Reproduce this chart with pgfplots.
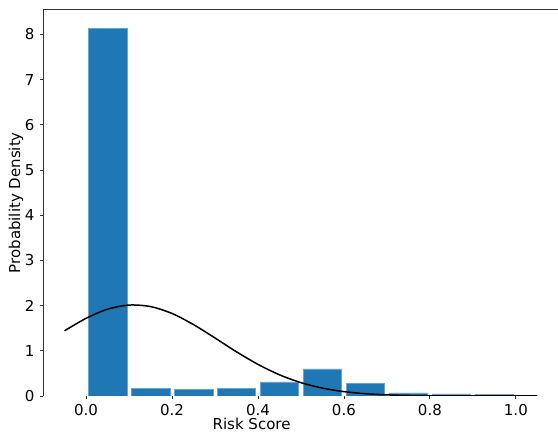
\documentclass[border=0pt]{standalone}
\usepackage{fontspec}
\setmainfont{DejaVu Sans}
\usepackage{pgfplots}
\pgfplotsset{compat=1.18}
\definecolor{barblue}{HTML}{1F77B4}
\definecolor{baredge}{HTML}{6AA3CF}
\begin{document}
\fontsize{15bp}{18bp}\selectfont
\begin{tikzpicture}
\begin{axis}[
 scale only axis, width=515bp, height=386.5bp,
 xmin=-0.1, xmax=1.098, ymin=0, ymax=8.55,
 axis line style={draw=none},
 tick pos=left, tick align=outside, major tick length=3.5bp,
 every tick/.style={black!80, line width=0.8bp},
 xtick={0,0.2,0.4,0.6,0.8,1}, ytick={0,1,2,3,4,5,6,7,8},
 /pgf/number format/assume math mode=true,
 xticklabel style={/pgf/number format/.cd, fixed, fixed zerofill, precision=1},
 yticklabel style={/pgf/number format/.cd, fixed, precision=0},
 xlabel={Risk Score}, ylabel={Probability Density},
 every axis x label/.style={at={(axis description cs:0.405,-0.073)}, anchor=center},
 every axis y label/.style={at={(axis description cs:-0.0524,0.5)}, anchor=center, rotate=90},
]
\addplot[ybar, bar width=0.09, fill=barblue, draw=baredge, line width=0.6bp] coordinates {
 (0.05,8.13) (0.15,0.17) (0.25,0.15) (0.35,0.16) (0.45,0.31)
 (0.55,0.60) (0.65,0.27) (0.75,0.07) (0.85,0.045) (0.95,0.04)
};
\addplot[black, line width=1.5bp, smooth] coordinates {
 (-0.05,1.442) (0.00,1.717) (0.05,1.919) (0.10,2.011) (0.15,1.978)
 (0.20,1.826) (0.25,1.580) (0.30,1.284) (0.35,0.978) (0.40,0.700)
 (0.45,0.469) (0.50,0.295) (0.55,0.1745) (0.60,0.0966) (0.65,0.0502)
 (0.70,0.0245) (0.75,0.0112) (0.80,0.0048) (0.85,0.0019) (0.90,0.0007)
 (0.95,0.0002) (1.00,0.0001) (1.05,0.0000)
};
\draw[black!80, line width=0.8bp] (rel axis cs:0,1) -- (rel axis cs:0,0) -- (rel axis cs:1,0);
\draw[black!80, line width=0.8bp] (rel axis cs:0,1) -- (rel axis cs:1,1);
\coordinate (bl) at (rel axis cs:0,0);
\coordinate (tr) at (rel axis cs:1,1);
\end{axis}
\pgfresetboundingbox
\path ([xshift=-43bp,yshift=-37bp]bl) rectangle ([yshift=9.5bp]tr);
\end{tikzpicture}
\end{document}
